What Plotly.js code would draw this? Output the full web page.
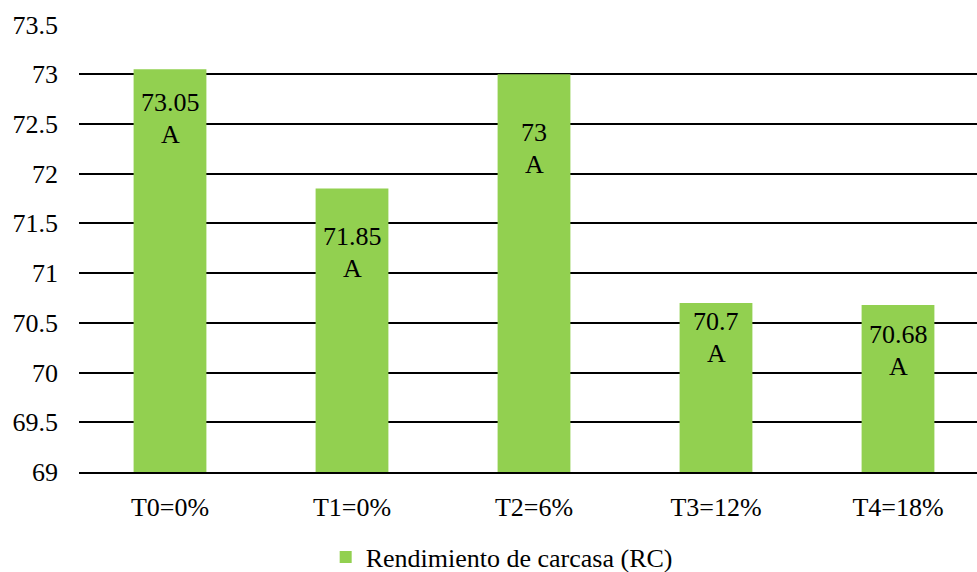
<!DOCTYPE html>
<html>
<head>
<meta charset="utf-8">
<script src="https://cdn.plot.ly/plotly-3.0.1.min.js"></script>
<style>
  html, body { margin: 0; padding: 0; background: #fff; }
  #chart { width: 977px; height: 572px; }
</style>
</head>
<body>
<div id="chart"></div>
<script>
// Treatments and carcass yield (%)
const categories = ["T0=0%", "T1=0%", "T2=6%", "T3=12%", "T4=18%"];
const yieldValues = [73.05, 71.85, 73, 70.7, 70.68];
const groupLetters = ["A", "A", "A", "A", "A"];
const seriesName = "Rendimiento de carcasa (RC)";

// Vertical drop (px) of each value label below the top of its bar
const labelDrop = [17, 31, 42, 2, 13];
const letterGap = 32; // px between the value line and the letter line

const FONT = "Liberation Serif";
const FS = 26;
const GREEN = "#92D050";

const trace = {
  type: "bar",
  x: categories,
  y: yieldValues,
  name: seriesName,
  marker: { color: GREEN },
  hoverinfo: "skip",
  showlegend: true
};

function barLabel(i, text, drop) {
  return {
    x: categories[i],
    y: yieldValues[i],
    xref: "x",
    yref: "y",
    text: text,
    showarrow: false,
    yanchor: "top",
    xanchor: "center",
    yshift: -drop,
    font: { family: FONT, size: FS, color: "#000" }
  };
}

const annotations = [];
categories.forEach((c, i) => {
  annotations.push(barLabel(i, String(yieldValues[i]), labelDrop[i]));
  annotations.push(barLabel(i, groupLetters[i], labelDrop[i] + letterGap));
});

const plotW = 898, catW = 182;

const layout = {
  width: 977,
  height: 572,
  paper_bgcolor: "#fff",
  plot_bgcolor: "#fff",
  margin: { l: 79, r: 0, t: 24, b: 99.5, autoexpand: false },
  font: { family: FONT, size: FS, color: "#000" },
  bargap: 0.6,
  showlegend: true,
  legend: {
    orientation: "h",
    x: 0.2747,
    xanchor: "left",
    yref: "container",
    y: 0.026,
    yanchor: "middle",
    font: { family: FONT, size: FS, color: "#000" },
    bgcolor: "rgba(0,0,0,0)"
  },
  xaxis: {
    type: "category",
    range: [-0.5, -0.5 + plotW / catW],
    showgrid: false,
    showline: true,
    linecolor: "#000",
    linewidth: 2,
    ticks: "",
    ticklabelstandoff: 11,
    tickfont: { family: FONT, size: FS, color: "#000" },
    fixedrange: true
  },
  yaxis: {
    range: [69, 73.504],
    tick0: 69,
    dtick: 0.5,
    showgrid: true,
    gridcolor: "#000",
    gridwidth: 2,
    zeroline: false,
    showline: false,
    ticks: "",
    ticklabelstandoff: 20,
    tickfont: { family: FONT, size: FS, color: "#000" },
    fixedrange: true
  },
  annotations: annotations
};

Plotly.newPlot("chart", [trace], layout, { displayModeBar: false, staticPlot: true });
</script>
</body>
</html>
